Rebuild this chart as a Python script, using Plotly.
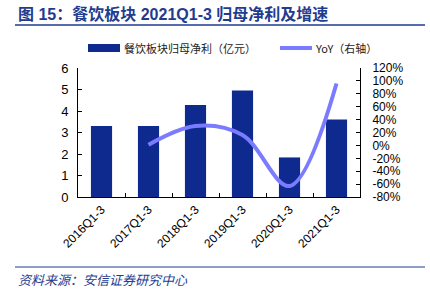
import plotly.graph_objects as go

categories = ["2016Q1-3", "2017Q1-3", "2018Q1-3", "2019Q1-3", "2020Q1-3", "2021Q1-3"]
profit = [3.30, 3.30, 4.28, 4.95, 1.84, 3.60]
yoy_cats = ["2017Q1-3", "2018Q1-3", "2019Q1-3", "2020Q1-3", "2021Q1-3"]
yoy = [1, 30, 16, -63, 96]
left_ticks = [0, 1, 2, 3, 4, 5, 6]
right_ticks = [-80, -60, -40, -20, 0, 20, 40, 60, 80, 100, 120]

BAR = "#0F2A8F"
LINE = "#7B7BFF"
TITLE_C = "#1F3C8F"
FONT = "Liberation Sans, Arial, Noto Sans CJK SC"
CJK = "Noto Sans CJK SC, Liberation Sans"
TITLE_FONT = "Liberation Sans, Noto Sans CJK SC"

L, R, T, B = 78, 360, 68, 197
W, H = 430, 289
def px(p): return (p - L) / (R - L)
def py(q): return (B - q) / (B - T)

fig = go.Figure()
fig.add_trace(go.Bar(x=categories, y=profit, name="餐饮板块归母净利（亿元）",
                     marker=dict(color=BAR, line=dict(width=0)), width=0.45,
                     showlegend=False))
fig.add_trace(go.Scatter(x=yoy_cats, y=yoy, name="YoY（右轴）", yaxis="y2",
                         mode="lines", line=dict(color=LINE, width=4, shape="spline", smoothing=1.0),
                         showlegend=False))

shapes = [
    dict(type="line", xref="paper", yref="paper", x0=px(15), x1=px(425), y0=py(25), y1=py(25),
         line=dict(color=TITLE_C, width=1.5)),
    dict(type="line", xref="paper", yref="paper", x0=px(15), x1=px(425), y0=py(267), y1=py(267),
         line=dict(color=TITLE_C, width=1)),
    dict(type="rect", xref="paper", yref="paper", x0=px(88), x1=px(120), y0=py(52), y1=py(44),
         fillcolor=BAR, line=dict(width=0)),
    dict(type="line", xref="paper", yref="paper", x0=px(280), x1=px(312), y0=py(48), y1=py(48),
         line=dict(color=LINE, width=4)),
]
annotations = [
    dict(text="<b>图 15：餐饮板块 2021Q1-3 归母净利及增速</b>", xref="paper", yref="paper",
         x=px(16), y=py(14), xanchor="left", yanchor="middle", showarrow=False,
         font=dict(family=TITLE_FONT, size=16, color=TITLE_C)),
    dict(text="<i>资料来源：安信证券研究中心</i>", xref="paper", yref="paper",
         x=px(16), y=py(279), xanchor="left", yanchor="middle", showarrow=False,
         font=dict(family=CJK, size=13, color=TITLE_C)),
    dict(text="餐饮板块归母净利（亿元）", xref="paper", yref="paper",
         x=px(122), y=py(48), xanchor="left", yanchor="middle", showarrow=False,
         font=dict(family=CJK, size=11, color="#222222")),
    dict(text="YoY（右轴）", xref="paper", yref="paper",
         x=px(313), y=py(48), xanchor="left", yanchor="middle", showarrow=False,
         font=dict(family=CJK, size=11, color="#222222")),
]

fig.update_layout(
    width=W, height=H,
    margin=dict(l=L, r=W - R, t=T, b=H - B, pad=0),
    paper_bgcolor="white", plot_bgcolor="white",
    font=dict(family=FONT, size=12, color="black"),
    bargap=0.55,
    shapes=shapes, annotations=annotations,
    xaxis=dict(type="category", categoryarray=categories, showline=True, linecolor="black", linewidth=1,
               ticks="inside", tickson="boundaries", ticklen=4, tickcolor="black",
               tickangle=-45, tickfont=dict(size=12), showgrid=False, zeroline=False),
    yaxis=dict(range=[0, 6], tickvals=left_ticks, showline=True, linecolor="black", linewidth=1,
               ticks="inside", ticklen=4, tickcolor="black", showgrid=False, zeroline=False,
               tickfont=dict(size=13), ticklabelstandoff=6),
    yaxis2=dict(range=[-80, 120], tickvals=right_ticks, ticktext=[f"{v}%" for v in right_ticks],
                overlaying="y", side="right", showline=True, linecolor="black", linewidth=1,
                ticks="inside", ticklen=4, tickcolor="black", showgrid=False, zeroline=False,
                tickfont=dict(size=12), ticklabelstandoff=9),
    showlegend=False,
)

fig.write_html("out.html")
